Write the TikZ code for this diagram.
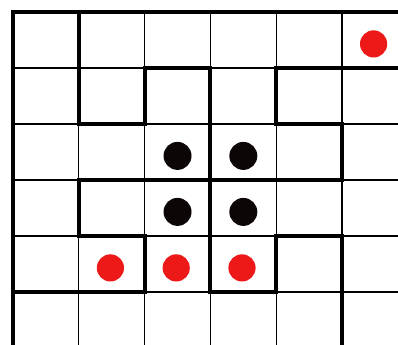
\documentclass[tikz,border=0pt]{standalone}
\usepackage{xcolor}
\definecolor{dotred}{RGB}{237,24,24}
\definecolor{dotblack}{RGB}{12,6,6}
\begin{document}
\begin{tikzpicture}[x={(1.645cm,0)}, y={(0,-1.4cm)},
  gridline/.style={line width=0.9pt, black},
  wall/.style={line width=2.9pt, black, line join=miter},
  reddot/.style={fill=dotred},
  blackdot/.style={fill=dotblack}]
  % Frame of the picture
  \useasboundingbox (-0.198,-0.214) rectangle (5.851,5.946);
  \clip (-0.198,-0.214) rectangle (5.851,5.946);

  % Thin grid
  \foreach \i in {0,...,6} {
    \draw[gridline] (\i,0) -- (\i,6.2);
    \draw[gridline] (0,\i) -- (6.2,\i);
  }

  % Border
  \draw[wall] (6.2,0) -- (0,0) -- (0,6.2);

  % Walls
  \draw[wall] (1,0) -- (1,2) -- (2,2) -- (2,1) -- (3,1) -- (3,5) -- (4,5) -- (4,4) -- (5,4) -- (5,6.2);
  \draw[wall] (6.2,1) -- (4,1) -- (4,2) -- (5,2) -- (5,3) -- (1,3) -- (1,4) -- (2,4) -- (2,5) -- (0,5);

  % Black stones
  \foreach \c/\r in {2/2, 3/2, 2/3, 3/3}
    \fill[blackdot] (\c+0.5,\r+0.57) circle (0.35cm);

  % Red stones
  \foreach \c/\r in {5/0, 1/4, 2/4, 3/4}
    \fill[reddot] (\c+0.48,\r+0.57) circle (0.34cm);
\end{tikzpicture}
\end{document}
